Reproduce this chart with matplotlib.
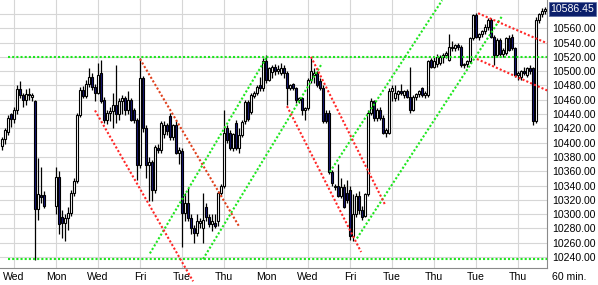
import matplotlib
matplotlib.use('Agg')
import matplotlib.pyplot as plt
import numpy as np

nan = float('nan')

# 60 min bars, one slot per hour (nan = no bar)
opens = [10395, 10405, 10415, 10440, 10433, 10446, 10475, 10467, 10460, 10468,
         10464, 10458, 10307, 10327, 10327, nan, nan, nan, 10312, 10352,
         10296, 10287, 10294, 10302, 10330, 10346, 10438, 10474, 10465, 10482,
         10492, 10478, 10470, 10497, 10460, 10432, 10441, 10444, 10452, 10440,
         10458, 10462, 10446, 10460, 10445, 10431, 10368, 10490, 10420, 10368,
         10373, 10334, 10392, 10390, 10412, 10424, 10437, 10408, 10424, 10386,
         10388, 10302, 10316, 10295, 10281, 10274, 10288, 10280, 10310, 10296,
         10286, 10288, 10290, 10329, 10340, 10420, 10413, 10392, 10427, 10392,
         10411, 10430, 10457, 10443, 10465, 10469, 10480, 10476, 10514, 10487,
         10499, 10506, 10500, 10498, 10505, 10498, 10477, 10482, 10476, 10459,
         10462, 10445, 10448, 10487, 10495, 10498, 10486, 10477, 10442, 10442,
         10359, 10338, 10340, 10326, 10338, 10330, 10334, 10270, 10300, 10326,
         10306, 10298, 10328, 10442, 10458, 10434, 10446, 10435, 10414, 10413,
         10472, 10462, 10468, 10472, 10466, 10472, 10464, 10446, 10464, 10468,
         10476, 10466, 10466, 10515, 10506, 10510, 10512, 10520, 10523, 10516,
         10534, 10532, 10536, 10534, 10508, 10510, 10514, 10546, 10578, 10548,
         10552, 10556, 10562, 10572, 10548, 10522, 10544, 10524, 10526, 10546,
         10548, 10532, 10494, 10492, 10500, 10494, 10504, 10504, 10430, 10572,
         10580, 10584]
highs = [10408, 10420, 10438, 10442, 10450, 10480, 10486, 10470, 10475, 10476,
         10470, 10460, 10378, 10366, 10332, nan, nan, nan, 10366, 10360,
         10306, 10300, 10310, 10334, 10350, 10442, 10478, 10479, 10488, 10504,
         10497, 10482, 10512, 10515, 10464, 10445, 10450, 10470, 10508, 10462,
         10466, 10465, 10472, 10462, 10448, 10434, 10518, 10493, 10424, 10380,
         10376, 10396, 10398, 10430, 10430, 10428, 10442, 10426, 10430, 10394,
         10392, 10330, 10336, 10300, 10285, 10300, 10294, 10329, 10316, 10300,
         10300, 10300, 10332, 10342, 10445, 10424, 10418, 10414, 10432, 10420,
         10432, 10460, 10460, 10470, 10472, 10480, 10492, 10518, 10522, 10506,
         10508, 10510, 10508, 10512, 10508, 10500, 10482, 10484, 10478, 10464,
         10464, 10450, 10490, 10518, 10505, 10500, 10490, 10480, 10445, 10446,
         10362, 10342, 10370, 10350, 10342, 10348, 10340, 10328, 10330, 10332,
         10312, 10330, 10445, 10462, 10460, 10448, 10450, 10438, 10420, 10476,
         10480, 10480, 10474, 10482, 10474, 10475, 10506, 10466, 10470, 10474,
         10478, 10472, 10516, 10518, 10520, 10524, 10522, 10526, 10528, 10552,
         10542, 10538, 10540, 10536, 10512, 10516, 10548, 10580, 10581, 10554,
         10558, 10566, 10575, 10574, 10550, 10546, 10546, 10532, 10548, 10550,
         10552, 10534, 10500, 10502, 10506, 10506, 10508, 10506, 10576, 10582,
         10588, 10590]
lows = [10390, 10398, 10410, 10422, 10428, 10440, 10462, 10450, 10452, 10460,
        10458, 10236, 10292, 10315, 10308, nan, nan, nan, 10300, 10272,
        10266, 10262, 10278, 10298, 10326, 10344, 10436, 10462, 10462, 10478,
        10474, 10458, 10468, 10455, 10428, 10426, 10430, 10420, 10428, 10432,
        10440, 10438, 10440, 10430, 10428, 10348, 10365, 10415, 10350, 10318,
        10318, 10330, 10386, 10386, 10406, 10410, 10404, 10404, 10384, 10370,
        10254, 10290, 10290, 10272, 10260, 10270, 10280, 10259, 10290, 10282,
        10276, 10280, 10284, 10326, 10336, 10400, 10390, 10388, 10390, 10386,
        10408, 10426, 10430, 10440, 10462, 10466, 10472, 10472, 10484, 10486,
        10490, 10494, 10496, 10494, 10490, 10452, 10474, 10474, 10456, 10456,
        10438, 10432, 10446, 10484, 10484, 10478, 10474, 10428, 10428, 10356,
        10340, 10334, 10324, 10322, 10308, 10316, 10264, 10262, 10296, 10300,
        10292, 10296, 10326, 10438, 10430, 10430, 10432, 10412, 10408, 10412,
        10458, 10458, 10460, 10466, 10462, 10462, 10442, 10444, 10460, 10464,
        10464, 10462, 10464, 10504, 10504, 10506, 10508, 10512, 10518, 10514,
        10528, 10528, 10530, 10506, 10504, 10506, 10512, 10544, 10546, 10544,
        10548, 10552, 10558, 10546, 10508, 10520, 10520, 10520, 10522, 10528,
        10530, 10492, 10488, 10488, 10494, 10492, 10496, 10425, 10428, 10568,
        10576, 10580]
closes = [10405, 10417, 10434, 10433, 10446, 10475, 10467, 10460, 10468, 10466,
          10467, 10307, 10328, 10324, 10311, nan, nan, nan, 10352, 10286,
          10287, 10294, 10302, 10330, 10346, 10438, 10474, 10465, 10482, 10492,
          10478, 10470, 10494, 10458, 10432, 10441, 10444, 10452, 10440, 10458,
          10462, 10446, 10460, 10432, 10431, 10368, 10490, 10420, 10368, 10373,
          10334, 10394, 10390, 10427, 10424, 10416, 10408, 10424, 10386, 10390,
          10302, 10316, 10295, 10281, 10274, 10290, 10290, 10292, 10296, 10286,
          10290, 10284, 10329, 10340, 10413, 10403, 10392, 10412, 10392, 10410,
          10429, 10457, 10433, 10467, 10469, 10478, 10476, 10514, 10487, 10504,
          10506, 10500, 10503, 10505, 10497, 10477, 10480, 10476, 10459, 10462,
          10445, 10448, 10487, 10500, 10498, 10481, 10477, 10430, 10430, 10359,
          10343, 10340, 10326, 10338, 10310, 10320, 10270, 10300, 10326, 10306,
          10296, 10328, 10442, 10458, 10434, 10445, 10434, 10414, 10417, 10472,
          10476, 10470, 10472, 10470, 10472, 10464, 10446, 10464, 10468, 10472,
          10466, 10470, 10514, 10506, 10514, 10520, 10520, 10523, 10526, 10534,
          10532, 10536, 10534, 10508, 10510, 10514, 10546, 10578, 10548, 10552,
          10556, 10562, 10572, 10548, 10522, 10544, 10524, 10530, 10546, 10530,
          10532, 10494, 10498, 10500, 10498, 10504, 10500, 10430, 10572, 10580,
          10584, 10586.45]

last_price = 10586.45

day_ticks = [4, 18, 32, 46, 60, 74, 88, 102, 116, 130, 144, 158, 172]
day_labels = ['Wed', 'Mon', 'Wed', 'Fri', 'Tue', 'Thu', 'Mon', 'Wed', 'Fri',
              'Tue', 'Thu', 'Tue', 'Thu']
price_ticks = list(range(10240, 10581, 20))

# hand drawn trend lines: (bar, price) -> (bar, price)
green_lines = [((2, 10520), (181.7, 10520)),
               ((2, 10237), (181.7, 10237)),
               ((49.3, 10245), (88.3, 10520)),
               ((67, 10237), (106.7, 10511)),
               ((109.3, 10359), (146.7, 10599)),
               ((118.3, 10266), (166.7, 10577))]
red_lines = [((31, 10445), (63.7, 10206)),
             ((103, 10520), (127.7, 10313)),
             ((95, 10451), (119.7, 10247)),
             ((158.7, 10581), (181.7, 10539)),
             ((158.3, 10517), (181.7, 10473))]
brown_lines = [((46, 10517), (79, 10283))]

plt.rcParams['font.family'] = ['Liberation Sans', 'DejaVu Sans']

o = np.array(opens, dtype=float)
h = np.array(highs, dtype=float)
l = np.array(lows, dtype=float)
c = np.array(closes, dtype=float)
x = np.arange(len(o))
ok = ~np.isnan(o)
up = ok & (c >= o)
down = ok & (c < o)

fig = plt.figure(figsize=(5.98, 2.85), dpi=100)
ax = fig.add_axes([0, 17 / 285, 547 / 598, 268 / 285])

ax.vlines(x[ok], l[ok], h[ok], color='black', lw=0.9, zorder=2)
bottom = np.minimum(o, c)
height = np.maximum(np.abs(c - o), 1.5)
ax.bar(x[up], height[up], bottom=bottom[up], width=0.95, color='white',
       edgecolor='black', lw=0.8, zorder=3)
ax.bar(x[down], height[down], bottom=bottom[down], width=0.95, color='#161675',
       edgecolor='black', lw=0.8, zorder=3)

dots = (0, (1, 1))
for (x0, y0), (x1, y1) in green_lines:
    ax.plot([x0, x1], [y0, y1], color='#1ee61e', lw=1.5, ls=dots, zorder=4)
for (x0, y0), (x1, y1) in red_lines:
    ax.plot([x0, x1], [y0, y1], color='#ff2626', lw=1.5, ls=dots, zorder=4,
            clip_on=False)
for (x0, y0), (x1, y1) in brown_lines:
    ax.plot([x0, x1], [y0, y1], color='#e0401c', lw=1.5, ls=dots, zorder=4)

ax.set_xlim(-0.667, 181.667)
ax.set_ylim(10224.6, 10599.5)

ax.set_xticks(day_ticks)
ax.set_xticklabels(day_labels)
ax.set_yticks(price_ticks)
# the top level sits under the last-price box
ax.set_yticklabels(['%.2f' % p if p < 10580 else '' for p in price_ticks])
ax.yaxis.tick_right()
ax.tick_params(axis='y', length=0, pad=3.5, labelsize=7.6)
ax.tick_params(axis='x', length=0, pad=3, labelsize=7.6)

ax.grid(True, color='#d6d6d6', lw=0.8)
ax.set_axisbelow(True)
for side in ['top', 'left']:
    ax.spines[side].set_visible(False)
for side in ['right', 'bottom']:
    ax.spines[side].set_color('#8a8a8a')
    ax.spines[side].set_linewidth(0.8)

ax.annotate('%.2f' % last_price, xy=(1.0, last_price),
            xycoords=('axes fraction', 'data'), xytext=(2.6, 0),
            textcoords='offset points', ha='left', va='center',
            color='white', fontsize=7.6, annotation_clip=False, zorder=10,
            bbox=dict(boxstyle='square,pad=0.18', fc='#0b1f6b',
                      ec='#5a6aa0', lw=0.5))

fig.text(552 / 598, 1 - 277 / 285, '60 min.', ha='left', va='center',
         fontsize=7.6)

fig.savefig('out.png', dpi=100)
